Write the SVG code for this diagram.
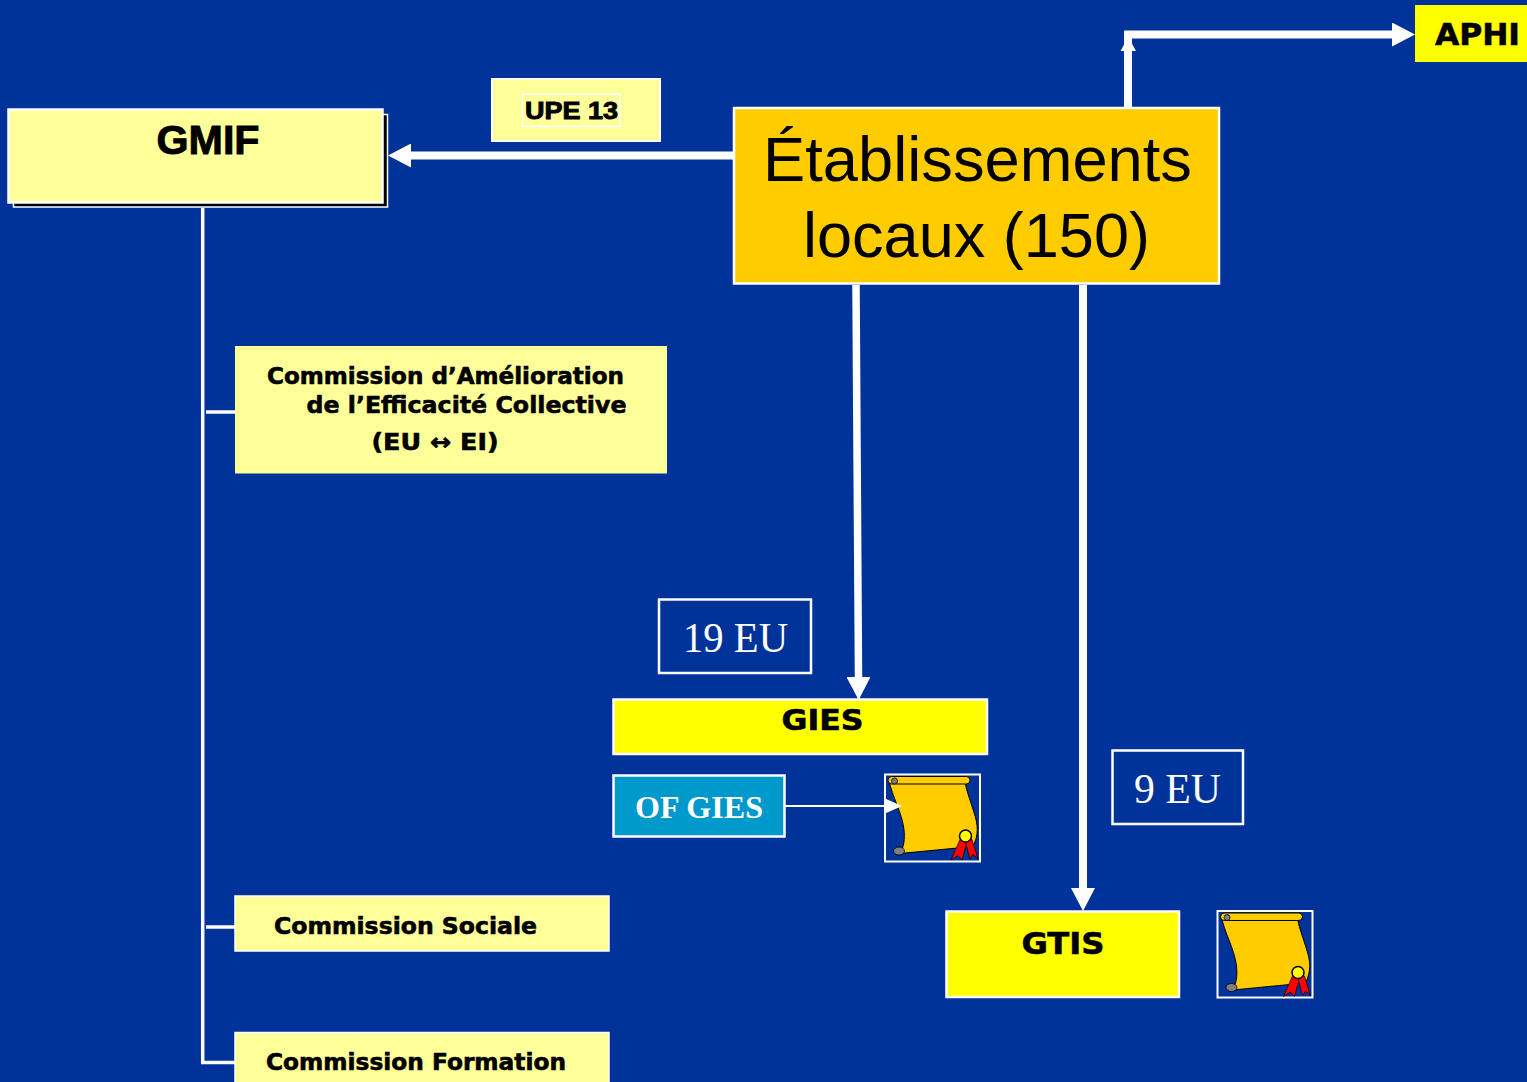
<svg xmlns="http://www.w3.org/2000/svg" xmlns:xlink="http://www.w3.org/1999/xlink" width="1527" height="1082" viewBox="0 0 1527 1082">
<style>
.bg{fill:#003399}
.ly{fill:#FFFF99}
.yy{fill:#FFFF00}
.wb{stroke:#FFFFFF;stroke-width:2.5}
.lab{font-family:"DejaVu Sans",Verdana,sans-serif;font-weight:bold;fill:#000;stroke:#000;stroke-width:0.6}
.ar{font-family:"Liberation Sans",Arial,sans-serif;font-weight:bold;fill:#000;stroke:#000;stroke-width:0.9}
.ser{font-family:"Liberation Serif","Times New Roman",serif;fill:#FFFFFF}
.conn{stroke:#FFFFFF;fill:none}
</style>
<defs>
<marker id="ah" markerUnits="userSpaceOnUse" markerWidth="24" markerHeight="24" refX="0" refY="12" orient="auto"><path d="M0,0 L23,12 L0,24 Z" fill="#FFFFFF"/></marker>
<marker id="ahs" markerUnits="userSpaceOnUse" markerWidth="17" markerHeight="15" refX="0" refY="7.5" orient="auto"><path d="M0,0 L17,7.5 L0,15 Z" fill="#FFFFFF"/></marker>
<g id="scroll">
<path d="M4,6 C7,22 17,38 19,55 C20,65 19,72 15,79 L88,72 C94,60 93,50 89,38 C86,28 82,18 80,8 Z" fill="#FFCC00" stroke="#000" stroke-width="1"/>
<rect x="3" y="2" width="82" height="7.5" rx="3.7" fill="#FFCC00" stroke="#000" stroke-width="1"/>
<circle cx="9.5" cy="6.5" r="3" fill="#808080" stroke="#000" stroke-width="0.8"/>
<ellipse cx="14" cy="76.5" rx="5.5" ry="4" fill="#808080" stroke="#000" stroke-width="0.8"/>
<path d="M75,65 L66,85.5 L73,81 L77,85.5 L82,67 Z" fill="#FF0000" stroke="#000" stroke-width="0.7"/>
<path d="M80,66 L85,84.5 L88,80 L93,84.5 L87,65 Z" fill="#FF0000" stroke="#000" stroke-width="0.7"/>
<circle cx="80.5" cy="61.5" r="6" fill="#FFFF00" stroke="#000" stroke-width="1.5"/>
</g>
</defs>
<rect class="bg" x="0" y="0" width="1527" height="1082"/>

<g id="gmif">
<rect x="13.5" y="114.5" width="374" height="92.5" fill="#000" stroke="#FFFFFF" stroke-width="1.5"/>
<rect class="ly wb" x="8.5" y="109.5" width="374" height="93"/>
<text class="ar" x="208" y="154" font-size="40" text-anchor="middle" textLength="103" lengthAdjust="spacingAndGlyphs">GMIF</text>
</g>

<g id="upe13">
<rect class="ly" x="492" y="79" width="168" height="62" stroke="#FFFFFF" stroke-width="2"/>
<rect x="522.5" y="94" width="97.5" height="32.5" fill="none" stroke="#FFFFFF" stroke-width="1.5"/>
<text class="ar" x="571.5" y="119" font-size="24" text-anchor="middle" textLength="93" lengthAdjust="spacingAndGlyphs">UPE 13</text>
</g>

<g id="etablissements">
<rect x="734" y="108" width="485" height="175.5" fill="#FFCC00" stroke="#FFFFFF" stroke-width="2.5"/>
<text x="977.5" y="181" font-family="'Liberation Sans',Arial,sans-serif" font-size="63" text-anchor="middle" fill="#000" textLength="429" lengthAdjust="spacingAndGlyphs">Établissements</text>
<text x="976.5" y="257" font-family="'Liberation Sans',Arial,sans-serif" font-size="63" text-anchor="middle" fill="#000" textLength="347" lengthAdjust="spacingAndGlyphs">locaux (150)</text>
</g>

<g id="aphi">
<rect class="yy" x="1415" y="5" width="112" height="57"/>
<text class="lab" x="1435" y="45" font-size="31" textLength="85" lengthAdjust="spacingAndGlyphs">APHI</text>
</g>

<g id="commission-amelioration">
<rect class="ly" x="235" y="346" width="432" height="127.5"/>
<text class="lab" x="267" y="384" font-size="23" textLength="357" lengthAdjust="spacingAndGlyphs">Commission d’Amélioration</text>
<text class="lab" x="306.5" y="412.5" font-size="23" textLength="320" lengthAdjust="spacingAndGlyphs">de l’Efficacité Collective</text>
<text class="lab" x="371.5" y="450" font-size="23" textLength="127" lengthAdjust="spacingAndGlyphs">(EU ↔ EI)</text>
</g>

<g id="commission-sociale">
<rect class="ly" x="235" y="896" width="374" height="55" stroke="#FFFFFF" stroke-width="1.5"/>
<text class="lab" x="274" y="934" font-size="23" textLength="263" lengthAdjust="spacingAndGlyphs">Commission Sociale</text>
</g>

<g id="commission-formation">
<rect class="ly" x="235" y="1032.5" width="374" height="55" stroke="#FFFFFF" stroke-width="1.5"/>
<text class="lab" x="266" y="1070" font-size="23" textLength="300" lengthAdjust="spacingAndGlyphs">Commission Formation</text>
</g>

<g id="eu19">
<rect x="659" y="599.5" width="152" height="73.5" fill="none" stroke="#FFFFFF" stroke-width="2.5"/>
<text class="ser" x="683" y="652" font-size="43" textLength="105" lengthAdjust="spacingAndGlyphs">19 EU</text>
</g>

<g id="gies">
<rect class="yy wb" x="613.5" y="699.5" width="373.5" height="54.5"/>
<text class="lab" x="781.5" y="729.5" font-size="29" textLength="82" lengthAdjust="spacingAndGlyphs">GIES</text>
</g>

<g id="of-gies">
<rect x="613.5" y="775.5" width="171" height="61" fill="#0099CC" stroke="#FFFFFF" stroke-width="2.5"/>
<text class="ser" x="635" y="818" font-size="32" font-weight="bold" textLength="128" lengthAdjust="spacingAndGlyphs">OF GIES</text>
</g>

<g id="scroll-gies">
<rect x="885" y="774.5" width="95" height="87" fill="#003399" stroke="#FFFFFF" stroke-width="2"/>
<use xlink:href="#scroll" href="#scroll" transform="translate(885,774.5)"/>
</g>

<g id="eu9">
<rect x="1112.5" y="750.5" width="130.5" height="73.5" fill="none" stroke="#FFFFFF" stroke-width="2.5"/>
<text class="ser" x="1134" y="803" font-size="42" textLength="87" lengthAdjust="spacingAndGlyphs">9 EU</text>
</g>

<g id="gtis">
<rect class="yy wb" x="946.5" y="911.5" width="232.5" height="85.5"/>
<text class="lab" x="1021.5" y="953.5" font-size="31" textLength="83" lengthAdjust="spacingAndGlyphs">GTIS</text>
</g>

<g id="scroll-gtis">
<rect x="1217.5" y="911" width="95" height="86.5" fill="#003399" stroke="#FFFFFF" stroke-width="2"/>
<use xlink:href="#scroll" href="#scroll" transform="translate(1217.5,911)"/>
</g>

<g id="connectors">
<line class="conn" x1="735" y1="155.5" x2="411" y2="155.5" stroke-width="8" marker-end="url(#ah)"/>
<polyline class="conn" points="1128,107 1128,34.5 1392,34.5" stroke-width="8" marker-end="url(#ah)"/>
<polygon points="1120.5,51 1136,51 1128.3,37" fill="#FFFFFF"/>
<line class="conn" x1="856" y1="285" x2="858.5" y2="677" stroke-width="7.5" marker-end="url(#ah)"/>
<line class="conn" x1="1083" y1="285" x2="1083" y2="888" stroke-width="8" marker-end="url(#ah)"/>
<line class="conn" x1="785" y1="806" x2="885" y2="806" stroke-width="2" marker-end="url(#ahs)"/>
<path class="conn" d="M202.7,208 V1062.5 H235" stroke-width="3.5"/>
<line class="conn" x1="206" y1="412" x2="235" y2="412" stroke-width="3.5"/>
<line class="conn" x1="206" y1="927" x2="235" y2="927" stroke-width="3.5"/>
</g>
</svg>
